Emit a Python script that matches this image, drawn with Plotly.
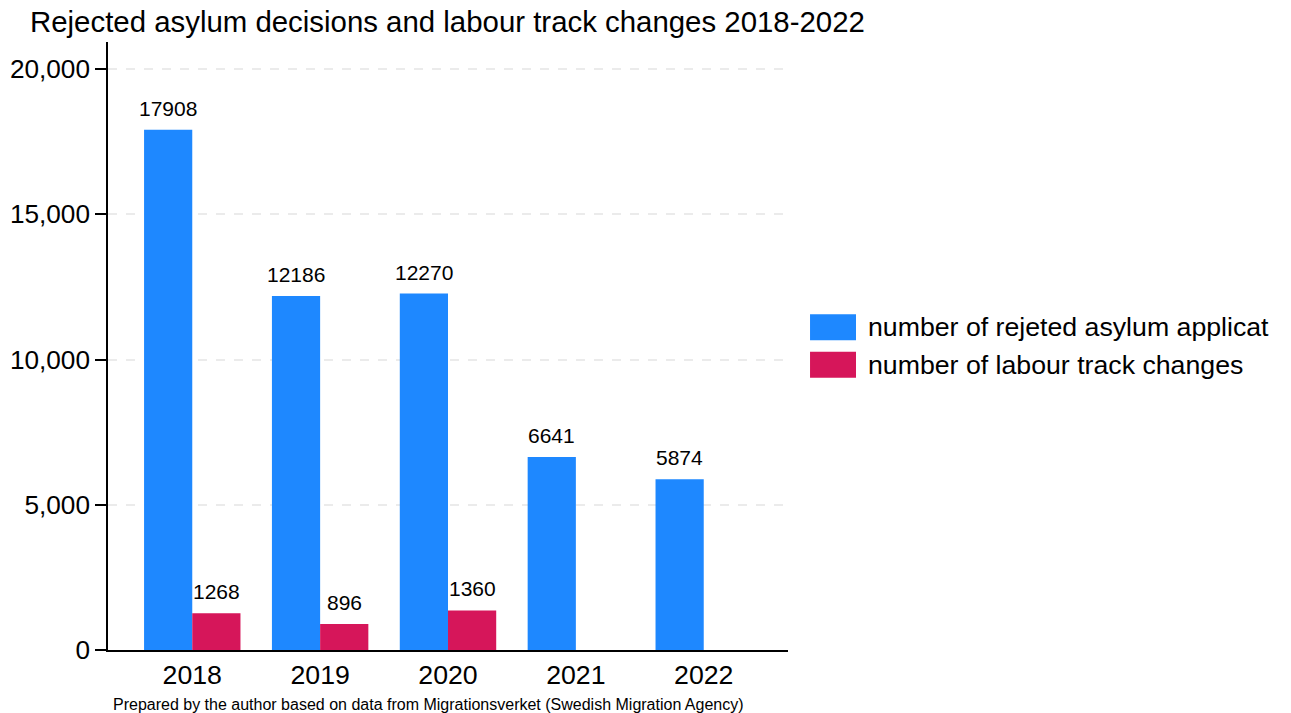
import plotly.graph_objects as go

years = ["2018", "2019", "2020", "2021", "2022"]
rejected = [17908, 12186, 12270, 6641, 5874]
track_changes = [1268, 896, 1360, None, None]
series_names = ["number of rejeted asylum applicat", "number of labour track changes"]
colors = ["#1E88FF", "#D6165A"]
y_ticks = [0, 5000, 10000, 15000, 20000]
y_tick_labels = ["0", "5,000", "10,000", "15,000", "20,000"]

FONT = "Liberation Sans, Arial, sans-serif"

fig = go.Figure()
for name, vals, col in zip(series_names, [rejected, track_changes], colors):
    fig.add_trace(go.Bar(x=years, y=vals, name=name, marker=dict(color=col, line=dict(width=0)),
                         showlegend=False))

# value labels
for vals, shift in zip([rejected, track_changes], [-24, 24]):
    for i, v in enumerate(vals):
        if v is None:
            continue
        fig.add_annotation(x=i, y=v, text=str(v), showarrow=False, xref="x", yref="y",
                           xshift=shift, yshift=8, yanchor="bottom",
                           font=dict(family=FONT, size=21, color="black"))

# custom legend
leg_y = [0.531, 0.469]
for name, col, ly in zip(series_names, colors, leg_y):
    fig.add_shape(type="rect", xref="paper", yref="paper",
                  x0=1.0324, x1=1.1, y0=ly - 0.0214, y1=ly + 0.0214,
                  fillcolor=col, line=dict(width=0))
    fig.add_annotation(xref="paper", yref="paper", x=1.115, y=ly, text=name, showarrow=False,
                       xanchor="left", yanchor="middle",
                       font=dict(family=FONT, size=26.7, color="black"))

fig.add_annotation(xref="paper", yref="paper", x=0.0045, y=-0.089,
                   text="Prepared by the author based on data from Migrationsverket (Swedish Migration Agency)",
                   showarrow=False, xanchor="left", yanchor="middle",
                   font=dict(family=FONT, size=16, color="black"))

fig.update_layout(
    template="none",
    width=1291, height=713,
    margin=dict(l=108, r=503, t=42, b=63, autoexpand=False),
    paper_bgcolor="white", plot_bgcolor="white",
    barmode="group", bargap=0.246, bargroupgap=0,
    title=dict(text="Rejected asylum decisions and labour track changes 2018-2022",
               x=30 / 1291, xanchor="left", y=1 - 22 / 713, yanchor="middle",
               font=dict(family=FONT, size=29.4, color="black")),
    font=dict(family=FONT, color="black"),
    xaxis=dict(type="category", range=[-0.659, 4.659], showline=True, linecolor="black", linewidth=1.5,
               ticks="", ticklen=0, showgrid=False, tickfont=dict(size=26.7, color="black"),
               ticklabelstandoff=0, automargin=False, zeroline=False),
    yaxis=dict(range=[0, 20930], tickvals=y_ticks, ticktext=y_tick_labels,
               showline=True, linecolor="black", linewidth=1.5, ticks="outside", ticklen=11,
               tickcolor="black", tickwidth=1.5, ticklabelstandoff=0, automargin=False,
               showgrid=True, gridcolor="#EBEBEB", gridwidth=2, griddash="dash",
               zeroline=False, tickfont=dict(size=26.2, color="black")),
)

fig.write_html("out.html")
